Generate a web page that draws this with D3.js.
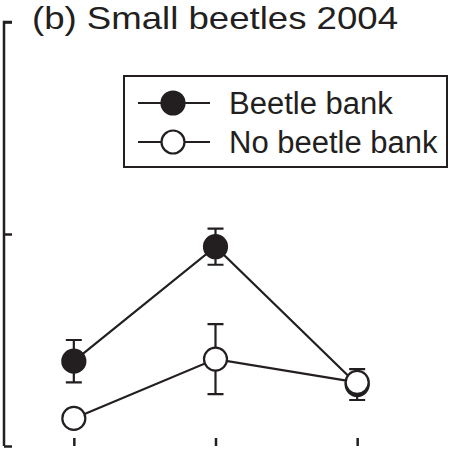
<!DOCTYPE html>
<html><head><meta charset="utf-8">
<script src="https://cdn.jsdelivr.net/npm/d3@7"></script>
<style>body{margin:0;background:#fff}</style>
</head><body>
<svg id="c" width="452" height="449"></svg>
<script>
const categories = ["A", "B", "C"];
const seriesNames = ["Beetle bank", "No beetle bank"];
const beetleBank = [0.40, 0.94, 0.29];
const beetleBankSE = [0.10, 0.085, 0.073];
const noBeetleBank = [0.13, 0.41, 0.30];
const noBeetleBankSE = [0.02, 0.165, 0.03];
const yTicks = [0, 1, 2];
const title = "(b) Small beetles 2004";

const svg = d3.select("#c");
const font = "'Liberation Sans', Arial, Helvetica, sans-serif";
const x = d3.scaleLinear().domain([-0.5, 2.5]).range([3, 428]);
const y = d3.scaleLinear().domain([0, 2]).range([446, 22]);
const ink = "#231f20";

// axes
const yAxis = d3.axisRight(y).tickValues(yTicks).tickSize(8).tickFormat("");
svg.append("g").attr("transform", `translate(${x(-0.5)+1},0)`).call(yAxis)
  .call(g => { g.selectAll("path,line").attr("stroke", ink).attr("stroke-width", 2.5); g.select(".domain").attr("d", `M8,${y(2)}H0V${y(0)}`); });
const xAxis = d3.axisTop(x).tickValues([0,1,2]).tickSize(8).tickFormat("");
svg.append("g").attr("transform", `translate(0,${y(0)})`).call(xAxis)
  .call(g => { g.selectAll("path,line").attr("stroke", ink).attr("stroke-width", 2.5); g.select(".domain").attr("d", `M${x(-0.5)}V0H${x(2.5)}`); });

const series = [
  {vals: noBeetleBank, se: noBeetleBankSE, fill: "#fff"},
  {vals: beetleBank, se: beetleBankSE, fill: ink}
];
const drawOrder = [series[1], series[0]];
const line = d3.line().x((d,i)=>x(i)).y(d=>y(d));
drawOrder.forEach(s => {
  svg.append("path").attr("d", line(s.vals)).attr("fill","none").attr("stroke", ink).attr("stroke-width", 2.2);
});
drawOrder.forEach(s => {
  const g = svg.append("g");
  s.vals.forEach((v,i) => {
    const cx = x(i), t = y(v + s.se[i]), b = y(v - s.se[i]);
    g.append("path").attr("d", `M${cx},${t}V${b}M${cx-8},${t}H${cx+8}M${cx-8},${b}H${cx+8}`)
      .attr("stroke", ink).attr("stroke-width", 2.2).attr("fill","none");
    g.append("circle").attr("cx", cx).attr("cy", y(v)).attr("r", 11.5)
      .attr("fill", s.fill).attr("stroke", ink).attr("stroke-width", 2.2);
  });
});

// title
svg.append("text").attr("x", 32).attr("y", 29).attr("font-family", font).attr("font-size", 32)
  .attr("textLength", 366).attr("lengthAdjust", "spacingAndGlyphs")
  .attr("fill", ink).text(title);

// legend
svg.append("rect").attr("x", 124).attr("y", 76).attr("width", 323).attr("height", 91)
  .attr("fill", "#fff").attr("stroke", ink).attr("stroke-width", 2);
const legY = [103, 142];
[series[1], series[0]].forEach((s,i) => {
  svg.append("line").attr("x1", 138).attr("x2", 210).attr("y1", legY[i]).attr("y2", legY[i])
    .attr("stroke", ink).attr("stroke-width", 2.2);
  svg.append("circle").attr("cx", 173).attr("cy", legY[i]).attr("r", 11.5)
    .attr("fill", s.fill).attr("stroke", ink).attr("stroke-width", 2.2);
  svg.append("text").attr("x", 229).attr("y", legY[i] + 11).attr("font-family", font).attr("font-size", 31)
    .attr("fill", ink).text(seriesNames[i]);
});
</script>
</body></html>
